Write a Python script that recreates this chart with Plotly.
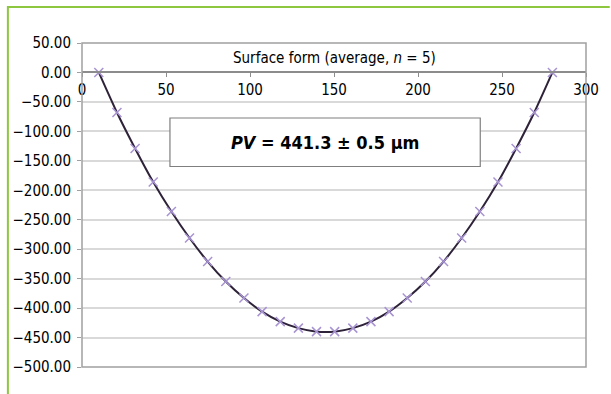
import plotly.graph_objects as go

# Data
x_pos = [10, 20.8, 31.6, 42.4, 53.2, 64, 74.8, 85.6, 96.4, 107.2, 118, 128.8, 139.6,
         150.4, 161.2, 172, 182.8, 193.6, 204.4, 215.2, 226, 236.8, 247.6, 258.4, 269.2, 280]
surface = [0, -68, -129, -186, -236, -281, -321, -355, -383, -406, -423, -434, -440,
           -440, -434, -423, -406, -383, -355, -321, -281, -236, -186, -129, -68, 0]
title_text = "Surface form (average, <i>n</i> = 5)"
pv_text = "<b><i>PV</i> = 441.3 ± 0.5 µm</b>"

FONT = "DejaVu Sans Condensed, Liberation Sans Narrow, sans-serif"

W, H = 611, 394
ML, MR, MT, MB = 82, 19, 43, 27
pw, ph = W - ML - MR, H - MT - MB

def px(x):
    return (x - ML) / pw

def py(y):
    return (H - MB - y) / ph

fig = go.Figure()
fig.add_trace(go.Scatter(
    x=x_pos, y=surface, mode="lines+markers",
    line=dict(color="#2e2239", width=2, shape="spline", smoothing=0.6),
    marker=dict(symbol="x-thin", size=9, color="#a894d2",
                line=dict(color="#a894d2", width=1.5)),
    showlegend=False, cliponaxis=False,
))

zero_frac = (0 - (-500)) / (50 - (-500))

fig.update_layout(
    width=W, height=H,
    margin=dict(l=ML, r=MR, t=MT, b=MB),
    paper_bgcolor="white", plot_bgcolor="white",
    font=dict(family=FONT, size=15, color="#000000"),
    xaxis=dict(range=[0, 300], dtick=50, tick0=0, showgrid=False, zeroline=False,
               anchor="free", position=zero_frac, showline=True, linecolor="#8c8c8c",
               linewidth=1.5, ticks="outside", ticklen=4, tickcolor="#8c8c8c",
               tickfont=dict(family=FONT, size=15, color="#000000")),
    yaxis=dict(range=[-500, 50], dtick=50, tick0=0, tickformat=".2f",
               showgrid=True, gridcolor="#d9d9d9", gridwidth=1.5, zeroline=False,
               showline=False, ticks="outside", ticklen=4, tickcolor="#a0a0a0",
               ticklabelstandoff=3,
               tickfont=dict(family=FONT, size=15, color="#000000")),
    shapes=[
        # plot area border
        dict(type="rect", xref="paper", yref="paper", x0=0, y0=0, x1=1, y1=1,
             line=dict(color="#a0a0a0", width=1.5), fillcolor="rgba(0,0,0,0)", layer="above"),
        # PV box
        dict(type="rect", xref="paper", yref="paper",
             x0=px(171), x1=px(485), y0=py(166.5), y1=py(118),
             line=dict(color="#7f7f7f", width=1.2), fillcolor="white", layer="above"),
        # green frame lines
        dict(type="line", xref="paper", yref="paper", x0=px(7), x1=px(W + 5),
             y0=py(7), y1=py(7), line=dict(color="#8dc63f", width=2)),
        dict(type="line", xref="paper", yref="paper", x0=px(7), x1=px(7),
             y0=py(6), y1=py(H + 5), line=dict(color="#8dc63f", width=2)),
    ],
    annotations=[
        dict(text=title_text, xref="paper", yref="paper", x=0.5, y=py(58),
             showarrow=False, xanchor="center", yanchor="middle",
             font=dict(family=FONT, size=15, color="#000000")),
        dict(text=pv_text, xref="paper", yref="paper", x=(px(171) + px(485)) / 2,
             y=py(142.5), showarrow=False, xanchor="center", yanchor="middle",
             font=dict(family=FONT, size=18, color="#000000")),
    ],
)

fig.write_html("out.html")
